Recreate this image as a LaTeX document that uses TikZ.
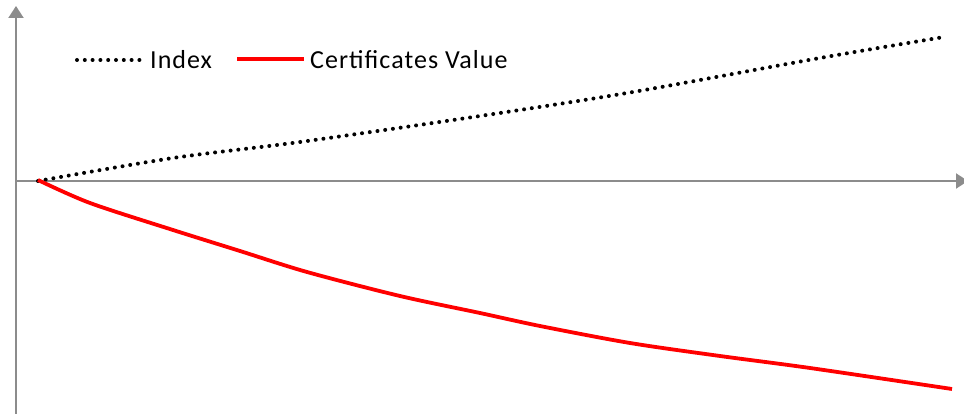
\documentclass[tikz,border=0pt]{standalone}
\usepackage{fontspec}
\setmainfont[LetterSpace=4]{Carlito}
\usetikzlibrary{arrows.meta}
\tikzset{
   axis line/.style={draw=black!45, line width=2pt, -{Triangle[width=15pt,length=12pt]}},
   index line/.style={line width=4pt, line cap=round, dash pattern=on 0pt off 7.8pt},
   value line/.style={red, line width=3.8pt},
   legend text/.style={inner sep=0pt, anchor=west, font=\fontsize{26}{30}\selectfont}
}

\begin{document}
\begin{tikzpicture}[x=1pt, y=-1pt]
    \useasboundingbox (0,0) rectangle (964,414);

    \coordinate (o) at (16,181);
    \coordinate (ybot) at (16,414);
    \coordinate (ytop) at (16,6);
    \coordinate (xend) at (968,181);

    \draw[axis line] (ybot) -- (ytop);
    \draw[axis line] (o) -- (xend);

    \draw[index line] plot[smooth] coordinates {(38,181) (173,158) (300,142) (480,116) (633,92) (820,58) (944,37)};

    \draw[value line] plot[smooth] coordinates {(38,180) (90,203) (173,230) (240,251) (307,272) (400,296) (480,313) (540,326) (630,343) (720,356) (810,368) (952,389)};

    \node[legend text] (idx) at (150,60) {Index};
    \coordinate (idxstart) at (77,60);
    \draw[index line] (idxstart) -- ([xshift=-6pt]idx.west);

    \node[legend text] (val) at (310,60) {Certificates Value};
    \coordinate (valstart) at (237,59);
    \draw[value line] (valstart) -- ([xshift=-6pt]val.west |- valstart);

  \end{tikzpicture}
\end{document}
